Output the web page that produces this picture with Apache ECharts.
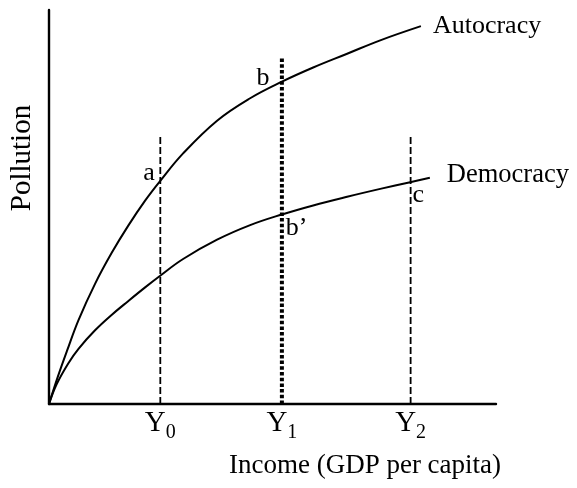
<!DOCTYPE html>
<html>
<head>
<meta charset="utf-8">
<script src="https://cdn.jsdelivr.net/npm/echarts@6/dist/echarts.min.js"></script>
<style>
html,body{margin:0;padding:0;background:#fff;}
#chart{width:577px;height:488px;}
</style>
</head>
<body>
<div id="chart"></div>
<script>
// Income axis (0-100 scale), pollution axis (0-100 scale)
const autocracyX = [0, 2.0, 4.0, 6.6, 10.3, 14.0, 17.7, 21.5, 24.8, 30.0, 37.6, 45.0, 52.1, 59.1, 66.7, 74.1, 83.2];
const autocracyY = [0, 7.0, 13.4, 21.3, 30.5, 38.3, 45.2, 51.6, 56.5, 63.6, 71.9, 77.6, 81.8, 85.4, 88.9, 92.3, 95.9];
const democracyX = [0, 1.7, 4.3, 6.6, 10.3, 14.0, 17.7, 21.5, 24.8, 30.0, 37.6, 45.0, 52.1, 59.1, 66.7, 74.1, 80.8, 85.2];
const democracyY = [0, 5.0, 10.3, 14.0, 18.7, 22.6, 26.1, 29.6, 32.5, 36.8, 41.7, 45.4, 48.1, 50.4, 52.6, 54.6, 56.3, 57.4];

const incomeLevels = [24.9, 52.1, 80.9];
const incomeSubscripts = ['0', '1', '2'];
const guideTops = [68.0, 88.1, 68.3];

const pointNames = ['a', 'b', 'b\u2019', 'c'];
const pointX = [22.4, 47.9, 55.4, 82.6];
const pointY = [58.6, 82.7, 44.6, 53.0];

const seriesNames = ['Autocracy', 'Democracy'];
const xTitle = 'Income (GDP per capita)';
const yTitle = 'Pollution';

const FONT = '"Liberation Serif", "Times New Roman", serif';

function pairs(xs, ys) { return xs.map((x, i) => [x, ys[i]]); }
function guide(i) { return [[incomeLevels[i], 0], [incomeLevels[i], guideTops[i]]]; }

const chart = echarts.init(document.getElementById('chart'), null, {renderer: 'canvas'});
chart.setOption({
  animation: false,
  backgroundColor: '#fff',
  textStyle: {fontFamily: FONT, color: '#000'},
  grid: {left: 49, right: 81, top: 10, bottom: 84},
  xAxis: {
    type: 'value', min: 0, max: 100,
    axisLine: {show: true, lineStyle: {color: '#000', width: 2.4}},
    axisTick: {show: false},
    splitLine: {show: false},
    axisLabel: {
      show: true,
      customValues: incomeLevels,
      margin: 9,
      formatter: function (v) {
        const i = incomeLevels.indexOf(v);
        return '{y|Y}{s|' + incomeSubscripts[i] + '}';
      },
      rich: {
        y: {fontFamily: FONT, fontSize: 29, color: '#000', verticalAlign: 'bottom', lineHeight: 30, padding: [0, 0, 5, 0]},
        s: {fontFamily: FONT, fontSize: 20, color: '#000', verticalAlign: 'bottom', lineHeight: 22}
      }
    }
  },
  yAxis: {
    type: 'value', min: 0, max: 100,
    axisLine: {show: true, lineStyle: {color: '#000', width: 2.4}},
    axisTick: {show: false},
    splitLine: {show: false},
    axisLabel: {show: false}
  },
  graphic: [
    {type: 'text', x: 365, y: 466, style: {text: xTitle, font: '27px ' + FONT, fill: '#000', align: 'center', verticalAlign: 'middle'}},
    {type: 'text', x: 22, y: 158, rotation: Math.PI / 2, style: {text: yTitle, font: '29px ' + FONT, fill: '#000', align: 'center', verticalAlign: 'middle'}}
  ],
  series: [
    {
      name: seriesNames[0], type: 'line', data: pairs(autocracyX, autocracyY),
      smooth: 0.4, symbol: 'none', lineStyle: {color: '#000', width: 2},
      endLabel: {show: true, formatter: '{a}', distance: 12, offset: [0, 0], fontFamily: FONT, fontSize: 26, color: '#000'},
      z: 3
    },
    {
      name: seriesNames[1], type: 'line', data: pairs(democracyX, democracyY),
      smooth: 0.4, symbol: 'none', lineStyle: {color: '#000', width: 2},
      endLabel: {show: true, formatter: '{a}', distance: 17, offset: [0, -3], fontFamily: FONT, fontSize: 26.5, color: '#000'},
      z: 3
    },
    {
      type: 'line', data: guide(0), symbol: 'none',
      lineStyle: {color: '#000', width: 1.8, type: [7, 3]}, z: 2
    },
    {
      type: 'line', data: guide(1), symbol: 'none',
      lineStyle: {color: '#000', width: 4, type: [3.5, 2.2]}, z: 2
    },
    {
      type: 'line', data: guide(2), symbol: 'none',
      lineStyle: {color: '#000', width: 1.8, type: [7, 3]}, z: 2
    },
    {
      type: 'scatter', symbolSize: 0, itemStyle: {color: '#000', opacity: 1},
      data: pointNames.map((n, i) => ({name: n, value: [pointX[i], pointY[i]]})),
      label: {show: true, position: 'inside', formatter: '{b}', fontFamily: FONT, fontSize: 26, color: '#000', opacity: 1, textBorderWidth: 0, textBorderColor: 'transparent'},
      z: 4
    }
  ]
});
</script>
</body>
</html>
